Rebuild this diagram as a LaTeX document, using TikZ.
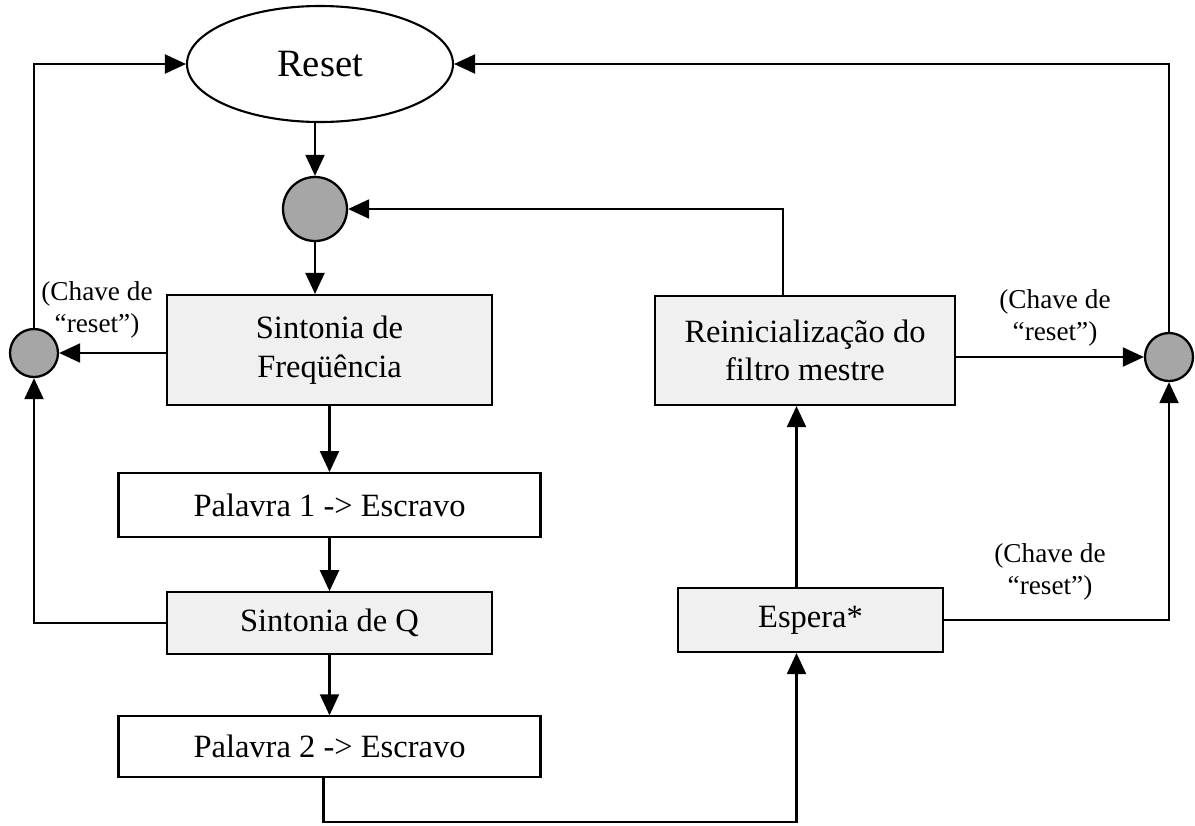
\documentclass[tikz,border=0pt]{standalone}
\usepackage{fontspec}
\setmainfont{Liberation Serif}
\usetikzlibrary{positioning,arrows.meta,shapes.geometric}
\tikzset{
  stage/.style={rectangle, draw, line width=1.2pt, fill=gray!12, align=center,
                inner sep=0pt, font=\fontsize{18.5}{22}\selectfont},
  word/.style={stage, fill=white},
  hub/.style={circle, draw, line width=1.3pt, fill=gray!70, inner sep=0pt},
  note/.style={align=center, inner sep=0pt, font=\fontsize{15.5}{18}\selectfont},
  flow/.style={-{Triangle[length=0.42cm,width=0.38cm]}, line width=1.2pt}
}
\begin{document}
\begin{tikzpicture}
\useasboundingbox (0,0) rectangle (23.9,-16.5);
\node[ellipse, draw, line width=1.2pt, inner sep=0pt, minimum width=5.32cm, minimum height=2.32cm,
      font=\fontsize{22}{26}\selectfont] (reset) at (6.4,-1.28) {Reset};
\node[hub, minimum size=1.28cm] (c1) at (6.3,-4.18) {};
\node[stage, minimum width=6.5cm, minimum height=2.2cm] (sf) at (6.59,-7.0) {Sintonia de\\Freqüência};
\node[word, minimum width=8.44cm, minimum height=1.28cm, below=1.32cm of sf] (p1) {Palavra 1 -> Escravo};
\node[stage, minimum width=6.5cm, minimum height=1.24cm, below=1.06cm of p1] (sq) {Sintonia de Q};
\node[word, minimum width=8.44cm, minimum height=1.22cm, below=1.2cm of sq] (p2) {Palavra 2 -> Escravo};
\node[stage, minimum width=6.0cm, minimum height=2.18cm] (rf) at (16.1,-7.01) {Reinicialização do\\filtro mestre};
\node[stage, minimum width=5.3cm, minimum height=1.28cm] (esp) at (16.21,-12.4) {Espera*};
\node[hub, minimum size=0.96cm] (cl) at (0.68,-7.06) {};
\node[hub, minimum size=0.96cm] (cr) at (23.38,-7.14) {};
\node[note] (kl) at (1.94,-6.2) {(Chave de\\“reset”)};
\node[note] (kr) at (21.1,-6.36) {(Chave de\\“reset”)};
\node[note] (ke) at (21.0,-11.44) {(Chave de\\“reset”)};
\coordinate (low) at ([xshift=-0.12cm]p2.south |- 0,-16.44);
% main chain
\draw[flow] (c1 |- reset.south) -- (c1);
\draw[flow] (c1) -- (c1 |- sf.north);
\draw[flow] (sf) -- (p1);
\draw[flow] (p1) -- (sq);
\draw[flow] (sq) -- (p2);
\draw[flow] ([xshift=-0.12cm]p2.south) -- (low) -| ([xshift=-0.28cm]esp.south);
\draw[flow] ([xshift=-0.28cm]esp.north) -- ([xshift=-0.28cm]esp.north |- rf.south);
\draw[flow] ([xshift=-0.44cm]rf.north) |- (c1);
% reset switches
\draw[flow] (sf.west |- cl) -- (cl);
\draw[flow] (sq.west) -| (cl);
\draw[flow] (cl) |- (reset);
\draw[flow] (rf.east |- cr) -- (cr);
\draw[flow] (esp.east) -| (cr);
\draw[flow] (cr) |- (reset);
\end{tikzpicture}
\end{document}
